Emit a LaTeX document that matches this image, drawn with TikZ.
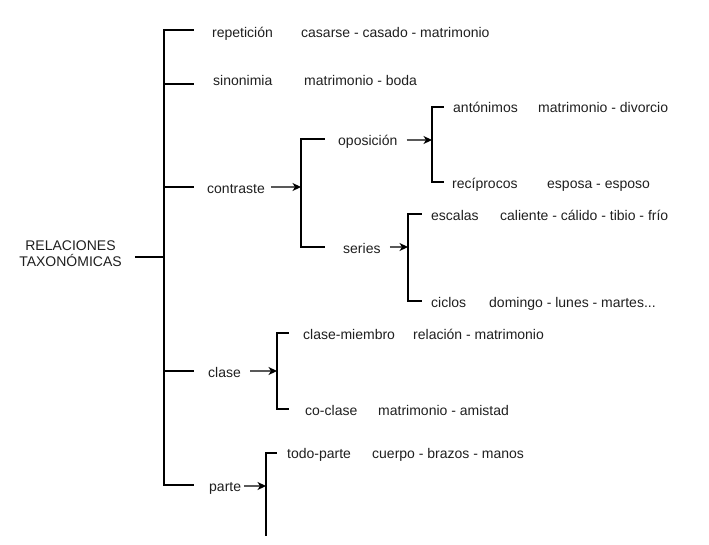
\documentclass[tikz,border=0pt]{standalone}
\usepackage{fontspec}
\setmainfont{Liberation Sans}
\usetikzlibrary{arrows.meta}
\begin{document}
\begin{tikzpicture}[x=1pt,y=-1pt,
  lbl/.style={anchor=west,inner sep=0pt,text height=10pt,text depth=3pt,yshift=-2pt,font=\fontsize{14}{16}\selectfont,text=black!88},
  brk/.style={line width=2.2pt,line cap=rect,draw=black},
  tick/.style={line width=2.2pt,draw=black},
  arr/.style={line width=1.1pt,draw=black!65,-{Stealth[length=8.5pt,width=8pt,inset=2.5pt,color=black]}}]
\useasboundingbox (0,0) rectangle (709,544);
% root
\node[inner sep=0pt,align=center,font=\fontsize{14}{16}\selectfont,text=black!88] (root) at (70.5,254) {RELACIONES\\TAXONÓMICAS};
% main bracket
\coordinate (m1) at (164,30);
\coordinate (m2) at (164,84);
\coordinate (m3) at (164,187);
\coordinate (mr) at (164,257);
\coordinate (m4) at (164,371);
\coordinate (m5) at (164,485);
\draw[tick,shorten <=13pt] (root.east |- mr) -- (mr);
\draw[brk] (m1) -- (m5);
\foreach \c in {m1,m2,m3,m4,m5} \draw[tick] (\c) -- ++(30,0);
% level 1 labels
\node[lbl] (rep) at (212,32) {repetición};
\node[lbl] (repx) at (301,32) {casarse - casado - matrimonio};
\node[lbl] (sin) at (213,80) {sinonimia};
\node[lbl] (sinx) at (304,80) {matrimonio - boda};
\node[lbl] (con) at (207,188) {contraste};
\node[lbl] (cla) at (208,372) {clase};
\node[lbl] (par) at (209,486) {parte};
% contraste bracket
\coordinate (c1) at (301,139);
\coordinate (cm) at (301,187);
\coordinate (c2) at (301,247);
\draw[arr,shorten <=6pt] (con.east |- cm) -- (cm);
\draw[brk] (c1) -- (c2);
\draw[tick] (c1) -- ++(24,0);
\draw[tick] (c2) -- ++(24,0);
\node[lbl] (opo) at (338,140) {oposición};
\node[lbl] (ser) at (343,248) {series};
% oposicion bracket
\coordinate (o1) at (432,107);
\coordinate (om) at (432,140);
\coordinate (o2) at (432,182);
\draw[arr,shorten <=9pt] (opo.east |- om) -- (om);
\draw[brk] (o1) -- (o2);
\draw[tick] (o1) -- ++(12,0);
\draw[tick] (o2) -- ++(12,0);
\node[lbl] (ant) at (453,107) {antónimos};
\node[lbl] (antx) at (538,107) {matrimonio - divorcio};
\node[lbl] (rec) at (452,183) {recíprocos};
\node[lbl] (recx) at (547,183) {esposa - esposo};
% series bracket
\coordinate (s1) at (408,214);
\coordinate (sm) at (408,247);
\coordinate (s2) at (408,301);
\draw[arr,shorten <=9pt] (ser.east |- sm) -- (sm);
\draw[brk] (s1) -- (s2);
\draw[tick] (s1) -- ++(14,0);
\draw[tick] (s2) -- ++(14,0);
\node[lbl] (esc) at (431,215) {escalas};
\node[lbl] (escx) at (500,215) {caliente - cálido - tibio - frío};
\node[lbl] (cic) at (431,302) {ciclos};
\node[lbl] (cicx) at (489,302) {domingo - lunes - martes...};
% clase bracket
\coordinate (k1) at (277,333);
\coordinate (km) at (277,371);
\coordinate (k2) at (277,409);
\draw[arr,shorten <=9pt] (cla.east |- km) -- (km);
\draw[brk] (k1) -- (k2);
\draw[tick] (k1) -- ++(12,0);
\draw[tick] (k2) -- ++(12,0);
\node[lbl] (cme) at (303,334) {clase-miembro};
\node[lbl] (cmex) at (413,334) {relación - matrimonio};
\node[lbl] (cco) at (305,410) {co-clase};
\node[lbl] (ccox) at (378,410) {matrimonio - amistad};
% parte bracket
\coordinate (p1) at (266,453);
\coordinate (pm) at (266,486);
\coordinate (p2) at (266,535);
\draw[arr,shorten <=3pt] (par.east |- pm) -- (pm);
\draw[brk] (p1) -- (p2);
\draw[tick] (p1) -- ++(11,0);
\node[lbl] (tod) at (287,453) {todo-parte};
\node[lbl] (todx) at (372,453) {cuerpo - brazos - manos};
\end{tikzpicture}
\end{document}
